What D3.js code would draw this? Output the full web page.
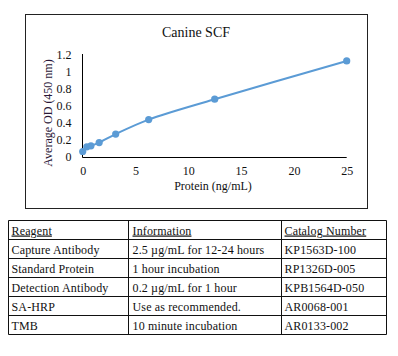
<!DOCTYPE html>
<html><head><meta charset="utf-8">
<script src="https://cdn.jsdelivr.net/npm/d3@7"></script>
<style>
html,body{margin:0;padding:0;background:#fff;}
svg{display:block;}
svg text{font-family:"Liberation Serif","Times New Roman",serif !important;}
</style></head>
<body><svg id="c" width="398" height="356"></svg>
<script>
const title = "Canine SCF";
const xLabel = "Protein (ng/mL)";
const yLabel = "Average OD (450 nm)";
const concentrations = [0, 0.39, 0.78, 1.56, 3.125, 6.25, 12.5, 25];
const odValues = [0.065, 0.12, 0.132, 0.17, 0.27, 0.44, 0.68, 1.13];
const xTicks = [0, 5, 10, 15, 20, 25];
const yTicks = [0, 0.2, 0.4, 0.6, 0.8, 1, 1.2];
const tableHeader = ["Reagent", "Information", "Catalog Number"];
const reagents = ["Capture Antibody", "Standard Protein", "Detection Antibody", "SA-HRP", "TMB"];
const information = ["2.5 µg/mL for 12-24 hours", "1 hour incubation", "0.2 µg/mL for 1 hour", "Use as recommended.", "10 minute incubation"];
const catalog = ["KP1563D-100", "RP1326D-005", "KPB1564D-050", "AR0068-001", "AR0133-002"];

const svg = d3.select("#c");
svg.append("rect").attr("x",25.5).attr("y",14.5).attr("width",342).attr("height",194)
  .attr("fill","#fff").attr("stroke","#222").attr("stroke-width",1);

svg.append("text").attr("x",196).attr("y",36.5).attr("text-anchor","middle")
  .attr("font-size",14).attr("fill","#111").text(title);

const x = d3.scaleLinear().domain([0,25]).range([82.7,346.7]);
const y = d3.scaleLinear().domain([0,1.2]).range([157,55]);

svg.append("line").attr("x1",82.5).attr("x2",82.5).attr("y1",54).attr("y2",157.5).attr("stroke","#000");
svg.append("line").attr("x1",82.5).attr("x2",346.7).attr("y1",157.5).attr("y2",157.5).attr("stroke","#000");

const yAxis = d3.axisLeft(y).tickValues(yTicks).tickSize(0).tickPadding(11).tickFormat(d=>String(+d.toFixed(1)));
const gy = svg.append("g").attr("transform","translate(82.5,0)").call(yAxis);
gy.select(".domain").remove();
gy.attr("font-family",null).attr("font-size",12);
gy.selectAll("text").style("font-size","12px").attr("fill","#111");

const xAxis = d3.axisBottom(x).tickValues(xTicks).tickSize(0).tickPadding(9);
const gx = svg.append("g").attr("transform","translate(0,157.5)").call(xAxis);
gx.select(".domain").remove();
gx.attr("font-family",null).attr("font-size",12);
gx.selectAll("text").style("font-size","12px").attr("fill","#111");

svg.append("text").attr("x",213).attr("y",190).attr("text-anchor","middle")
  .attr("font-size",12).attr("fill","#111").text(xLabel);
svg.append("text").attr("transform","translate(52,113) rotate(-90)").attr("text-anchor","middle")
  .attr("font-size",12).attr("fill","#2a1838").text(yLabel);

const pts = concentrations.map((c,i)=>[c, odValues[i]]);
const line = d3.line().x(d=>x(d[0])).y(d=>y(d[1])).curve(d3.curveCatmullRom.alpha(0.5));
svg.append("path").attr("d",line(pts)).attr("fill","none").attr("stroke","#5b9bd5").attr("stroke-width",2);
svg.selectAll("circle.pt").data(pts).enter().append("circle").attr("class","pt")
  .attr("cx",d=>x(d[0])).attr("cy",d=>y(d[1])).attr("r",3.6).attr("fill","#5b9bd5");

const colX = [8.5, 128.5, 281.5, 386.5];
const rowY = [220.5, 239.5, 258.5, 277.5, 296.5, 315.5, 334.5];
const pad = [3, 4, 3];
const tg = svg.append("g");
rowY.forEach(yy=>tg.append("line").attr("x1",colX[0]).attr("x2",colX[3]).attr("y1",yy).attr("y2",yy).attr("stroke","#111"));
colX.forEach(xx=>tg.append("line").attr("x1",xx).attr("x2",xx).attr("y1",rowY[0]).attr("y2",rowY[6]).attr("stroke","#111"));
const rows = [tableHeader].concat(reagents.map((r,i)=>[r, information[i], catalog[i]]));
rows.forEach((row,ri)=>{
  row.forEach((txt,ci)=>{
    const t = tg.append("text").attr("x",colX[ci]+pad[ci]).attr("y",rowY[ri]+14)
      .attr("font-size",12).attr("fill","#111").attr("letter-spacing",0.15).text(txt);
    if(ri===0) t.attr("text-decoration","underline");
  });
});
</script></body></html>
